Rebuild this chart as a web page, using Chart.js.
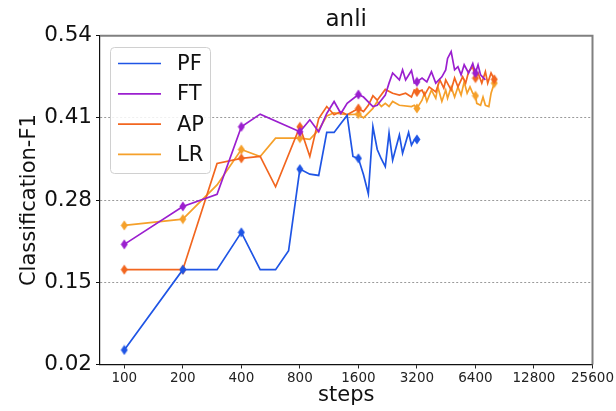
<!DOCTYPE html>
<html>
<head>
<meta charset="utf-8">
<script src="https://cdn.jsdelivr.net/npm/chart.js@4.4.0/dist/chart.umd.min.js"></script>
<style>
  html, body { margin: 0; padding: 0; background: #fff; }
  #wrap { width: 616px; height: 411px; position: relative; }
</style>
</head>
<body>
<div id="wrap"><canvas id="f1Chart" width="616" height="411"></canvas></div>
<script>
const chartTitle = 'anli';
const xTicks = [100, 200, 400, 800, 1600, 3200, 6400, 12800, 25600];
const yTicks = [0.02, 0.15, 0.28, 0.41, 0.54];
const markSteps = [100, 200, 400, 800, 1600, 3200, 6400, 8000];

const seriesNames = ['PF', 'FT', 'AP', 'LR'];
const seriesColors = ['#1f55e5', '#9b1fcf', '#f2661f', '#f5a02a'];

const pfSteps = [100, 200, 300, 400, 500, 600, 700, 800, 900, 1000, 1100, 1200, 1300, 1400, 1500, 1600, 1700, 1800, 1900, 2000, 2100, 2200, 2300, 2400, 2600, 2700, 2900, 3000, 3100, 3200];
const pfF1 = [0.043, 0.17, 0.17, 0.229, 0.17, 0.17, 0.20, 0.329, 0.321, 0.319, 0.387, 0.387, 0.401, 0.414, 0.349, 0.346, 0.32, 0.29, 0.396, 0.36, 0.345, 0.333, 0.386, 0.343, 0.383, 0.354, 0.387, 0.367, 0.375, 0.376];

const ftSteps = [100, 200, 300, 400, 500, 800, 900, 1000, 1100, 1200, 1300, 1400, 1600, 1700, 1900, 2000, 2200, 2300, 2400, 2600, 2700, 2800, 3000, 3100, 3200, 3400, 3600, 3800, 4000, 4300, 4500, 4600, 4800, 5000, 5200, 5400, 5600, 5900, 6200, 6400, 6600, 6800, 7200];
const ftF1 = [0.21, 0.27, 0.289, 0.396, 0.416, 0.388, 0.407, 0.388, 0.417, 0.436, 0.417, 0.433, 0.447, 0.443, 0.428, 0.43, 0.446, 0.465, 0.481, 0.47, 0.486, 0.47, 0.485, 0.465, 0.467, 0.473, 0.467, 0.483, 0.465, 0.475, 0.486, 0.504, 0.515, 0.486, 0.491, 0.478, 0.494, 0.481, 0.496, 0.481, 0.494, 0.478, 0.47];

const apSteps = [100, 200, 300, 400, 500, 600, 800, 900, 1000, 1100, 1200, 1300, 1400, 1500, 1600, 1700, 1800, 1900, 2000, 2200, 2400, 2600, 2800, 3000, 3100, 3200, 3400, 3500, 3700, 4000, 4200, 4400, 4500, 4800, 5000, 5200, 5500, 5700, 5900, 6200, 6400, 6600, 6900, 7200, 7400, 7700, 8000];
const apF1 = [0.17, 0.17, 0.338, 0.346, 0.349, 0.301, 0.396, 0.349, 0.409, 0.428, 0.415, 0.42, 0.415, 0.42, 0.425, 0.42, 0.43, 0.445, 0.438, 0.455, 0.449, 0.446, 0.449, 0.443, 0.454, 0.451, 0.454, 0.446, 0.459, 0.451, 0.47, 0.457, 0.47, 0.454, 0.473, 0.459, 0.475, 0.465, 0.483, 0.491, 0.473, 0.481, 0.465, 0.483, 0.465, 0.481, 0.471];

const lrSteps = [100, 200, 300, 400, 500, 600, 700, 800, 900, 1000, 1100, 1200, 1400, 1600, 1700, 1900, 2000, 2100, 2200, 2300, 2400, 2600, 3000, 3100, 3200, 3400, 3500, 3600, 3800, 4000, 4100, 4300, 4500, 4600, 4800, 5000, 5200, 5400, 5600, 5800, 6000, 6200, 6400, 6500, 6800, 7000, 7200, 7500, 7700, 8000];
const lrF1 = [0.24, 0.25, 0.304, 0.36, 0.349, 0.378, 0.378, 0.378, 0.376, 0.391, 0.413, 0.418, 0.415, 0.416, 0.41, 0.425, 0.436, 0.428, 0.433, 0.428, 0.436, 0.43, 0.428, 0.43, 0.425, 0.438, 0.449, 0.436, 0.454, 0.441, 0.459, 0.436, 0.454, 0.441, 0.459, 0.443, 0.459, 0.446, 0.467, 0.449, 0.459, 0.449, 0.445, 0.433, 0.43, 0.443, 0.43, 0.428, 0.449, 0.465];

const FONT = '"DejaVu Sans", "Liberation Sans", sans-serif';

function thinDiamond(color) {
    const c = document.createElement('canvas');
    c.width = 8;
    c.height = 11;
    const g = c.getContext('2d');
    g.fillStyle = color;
    g.beginPath();
    g.moveTo(4, 0.5);
    g.lineTo(7.5, 5.5);
    g.lineTo(4, 10.5);
    g.lineTo(0.5, 5.5);
    g.closePath();
    g.fill();
    return c;
}

function makeSet(i, steps, vals) {
    return {
        label: seriesNames[i],
        data: steps.map((s, k) => ({ x: s, y: vals[k] })),
        borderColor: seriesColors[i],
        backgroundColor: seriesColors[i],
        borderWidth: 1.7,
        tension: 0,
        pointStyle: thinDiamond(seriesColors[i]),
        pointRadius: ctx => (ctx.raw && markSteps.includes(ctx.raw.x)) ? 4 : 0,
        pointHoverRadius: 0
    };
}

// title, boxed legend inside the plot and the grey top/right frame
const decorations = {
    id: 'decorations',
    afterDraw(chart) {
        const { ctx, chartArea: a } = chart;
        ctx.save();

        ctx.strokeStyle = '#808080';
        ctx.lineWidth = 2;
        ctx.beginPath();
        ctx.moveTo(a.left, a.top);
        ctx.lineTo(a.right, a.top);
        ctx.lineTo(a.right, a.bottom);
        ctx.stroke();

        ctx.fillStyle = '#111';
        ctx.font = '23px ' + FONT;
        ctx.textAlign = 'center';
        ctx.textBaseline = 'middle';
        ctx.fillText(chartTitle, (a.left + a.right) / 2, 20);

        const bx = 110.5, by = 47.5, bw = 100, bh = 126, r = 4;
        ctx.beginPath();
        ctx.moveTo(bx + r, by);
        ctx.arcTo(bx + bw, by, bx + bw, by + bh, r);
        ctx.arcTo(bx + bw, by + bh, bx, by + bh, r);
        ctx.arcTo(bx, by + bh, bx, by, r);
        ctx.arcTo(bx, by, bx + bw, by, r);
        ctx.closePath();
        ctx.fillStyle = 'rgba(255,255,255,0.85)';
        ctx.fill();
        ctx.strokeStyle = '#d0d0d0';
        ctx.lineWidth = 1;
        ctx.stroke();

        ctx.font = '21px ' + FONT;
        ctx.textAlign = 'left';
        seriesNames.forEach((name, i) => {
            const y = 63.5 + i * 30.3;
            ctx.strokeStyle = seriesColors[i];
            ctx.lineWidth = 1.7;
            ctx.beginPath();
            ctx.moveTo(118, y);
            ctx.lineTo(161, y);
            ctx.stroke();
            ctx.fillStyle = '#111';
            ctx.fillText(name, 177, y + 1);
        });
        ctx.restore();
    }
};

new Chart(document.getElementById('f1Chart'), {
    type: 'line',
    data: {
        datasets: [
            makeSet(0, pfSteps, pfF1),
            makeSet(1, ftSteps, ftF1),
            makeSet(2, apSteps, apF1),
            makeSet(3, lrSteps, lrF1)
        ]
    },
    options: {
        responsive: false,
        animation: false,
        devicePixelRatio: 1,
        layout: { padding: { left: 0, right: 23.5, top: 35.7, bottom: 0 } },
        plugins: {
            legend: { display: false },
            title: { display: false },
            tooltip: { enabled: false }
        },
        scales: {
            x: {
                type: 'logarithmic',
                min: 75,
                max: 25600,
                afterBuildTicks: s => { s.ticks = xTicks.map(v => ({ value: v })); },
                afterFit: s => { s.height = 46.5; },
                ticks: {
                    autoSkip: false,
                    maxRotation: 0,
                    padding: 2,
                    color: '#222',
                    font: { family: FONT, size: 13.5 },
                    callback: v => String(v)
                },
                grid: {
                    drawOnChartArea: false,
                    drawTicks: true,
                    tickLength: 4,
                    tickColor: '#222'
                },
                border: { display: true, color: '#111', width: 1.2 },
                title: {
                    display: true,
                    text: 'steps',
                    color: '#111',
                    font: { family: FONT, size: 21 },
                    padding: { top: 0, bottom: 3 }
                }
            },
            y: {
                type: 'linear',
                min: 0.02,
                max: 0.54,
                afterBuildTicks: s => { s.ticks = yTicks.map(v => ({ value: v })); },
                afterFit: s => { s.width = 100; },
                ticks: {
                    padding: 4,
                    color: '#111',
                    font: { family: FONT, size: 21.5 },
                    callback: v => v.toFixed(2)
                },
                grid: {
                    color: ctx => (ctx.tick && (ctx.tick.value === 0.02 || ctx.tick.value === 0.54)) ? 'rgba(0,0,0,0)' : '#9a9a9a',
                    lineWidth: 1,
                    drawTicks: true,
                    tickLength: 4,
                    tickColor: '#111',
                    tickBorderDash: []
                },
                border: { display: true, color: '#111', width: 1.2, dash: [2, 2] },
                title: {
                    display: true,
                    text: 'Classification-F1',
                    color: '#111',
                    font: { family: FONT, size: 21 },
                    padding: { top: 17, bottom: 0 }
                }
            }
        }
    },
    plugins: [decorations]
});
</script>
</body>
</html>
